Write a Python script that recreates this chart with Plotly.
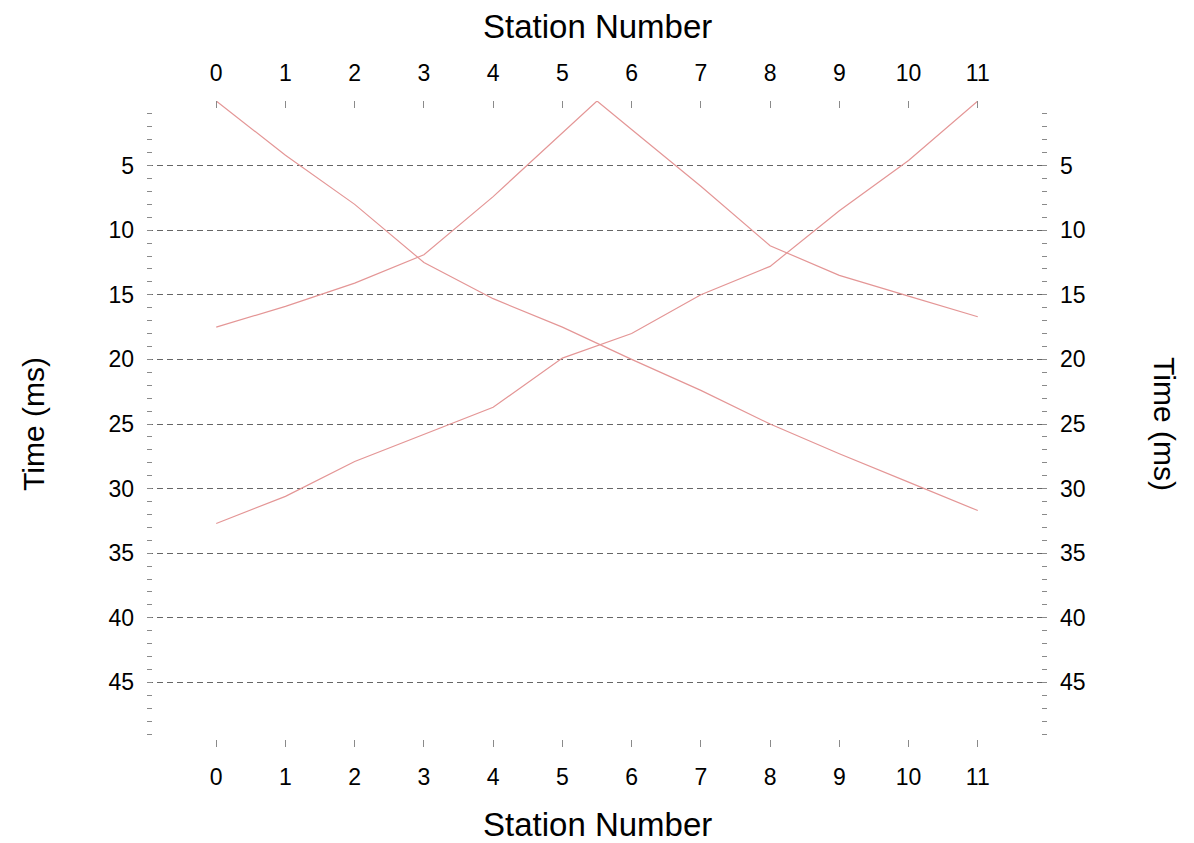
import plotly.graph_objects as go

# ---- data ----
stations = [0, 1, 2, 3, 4, 5, 6, 7, 8, 9, 10, 11]
shot_a_times = [0, 4.2, 8.0, 12.5, 15.3, 17.5, 20.0, 22.4, 25.0, 27.3, 29.5, 31.7]
shot_b_stations = [0, 1, 2, 3, 4, 5, 5.5, 6, 7, 8, 9, 10, 11]
shot_b_times = [17.5, 15.9, 14.1, 11.9, 7.4, 2.5, 0, 2.2, 6.6, 11.2, 13.5, 15.1, 16.7]
shot_c_times = [32.7, 30.6, 27.9, 25.8, 23.7, 19.9, 18.0, 15.0, 12.8, 8.5, 4.6, 0]

x_tick_vals = list(range(12))
y_tick_vals = [5, 10, 15, 20, 25, 30, 35, 40, 45]
x_title = "Station Number"
y_title = "Time (ms)"

FONT = "Liberation Sans, Arial, Helvetica, sans-serif"
LINE_COLOR = "rgb(228,150,150)"
TICK_COLOR = "#8a8a8a"
GRID_COLOR = "#666666"
TEXT_COLOR = "#000000"

fig = go.Figure()
for xs, ys in [(stations, shot_a_times), (shot_b_stations, shot_b_times), (stations, shot_c_times)]:
    fig.add_trace(go.Scatter(x=xs, y=ys, mode="lines",
                             line=dict(color=LINE_COLOR, width=1.2),
                             showlegend=False, hoverinfo="skip"))
# invisible trace to anchor secondary (top/right) axes
fig.add_trace(go.Scatter(x=stations, y=shot_a_times, xaxis="x2", yaxis="y2", mode="lines",
                         line=dict(color="rgba(0,0,0,0)", width=0),
                         showlegend=False, hoverinfo="skip"))

xcommon = dict(range=[-1, 12], tickvals=x_tick_vals, ticks="inside", ticklen=7,
               tickcolor=TICK_COLOR, tickwidth=1, showgrid=False, zeroline=False,
               showline=False, tickfont=dict(family=FONT, size=23, color=TEXT_COLOR),
               ticklabelstandoff=14)
ycommon = dict(range=[50, 0], tickvals=y_tick_vals, ticks="inside", ticklen=5,
               tickcolor=TICK_COLOR, tickwidth=1, zeroline=False, showline=False,
               tickfont=dict(family=FONT, size=23, color=TEXT_COLOR),
               minor=dict(ticks="inside", ticklen=5, tickcolor=TICK_COLOR,
                          tick0=0, dtick=1, showgrid=False),
               ticklabelstandoff=12)

# The page body adds an 8px offset, so the figure is slightly smaller and shifted.
fig.update_layout(
    width=1186, height=835, autosize=False,
    margin=dict(l=139, r=147, t=93, b=96),
    paper_bgcolor="white", plot_bgcolor="white",
    xaxis=dict(**xcommon, side="bottom"),
    xaxis2=dict(**xcommon, side="top", overlaying="x", matches="x"),
    yaxis=dict(**ycommon, side="left", showgrid=True, gridcolor=GRID_COLOR,
               gridwidth=1, griddash="6px,4px"),
    yaxis2=dict(**ycommon, side="right", overlaying="y", showgrid=False),
)

ann_font = dict(family=FONT, size=33, color=TEXT_COLOR)
fig.add_annotation(text=x_title, xref="paper", yref="paper", x=0.5, y=1.115,
                   showarrow=False, font=ann_font, xanchor="center", yanchor="middle",
                   borderpad=0)
fig.add_annotation(text=x_title, xref="paper", yref="paper", x=0.5, y=-0.1207,
                   showarrow=False, font=ann_font, xanchor="center", yanchor="middle",
                   borderpad=0)
fig.add_annotation(text=y_title, xref="paper", yref="paper", x=-0.1267, y=0.5,
                   showarrow=False, font=dict(family=FONT, size=30, color=TEXT_COLOR),
                   textangle=-90, xanchor="center", yanchor="middle")
fig.add_annotation(text=y_title, xref="paper", yref="paper", x=1.131, y=0.5,
                   showarrow=False, font=dict(family=FONT, size=30, color=TEXT_COLOR),
                   textangle=90, xanchor="center", yanchor="middle")

fig.write_html("out.html")
